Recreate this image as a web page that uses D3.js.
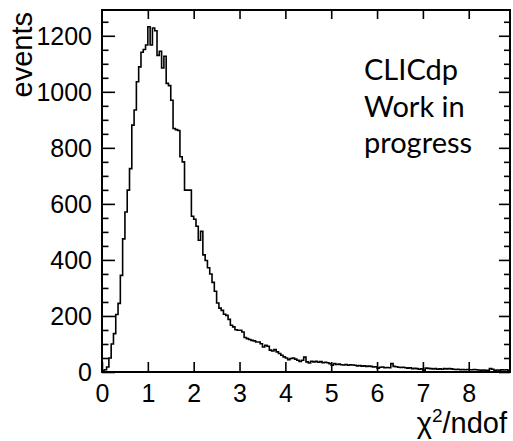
<!DOCTYPE html>
<html>
<head>
<meta charset="utf-8">
<script src="https://cdn.jsdelivr.net/npm/d3@7"></script>
<style>
  html, body { margin: 0; padding: 0; background: #fff; }
  svg { display: block; }
</style>
</head>
<body>
<svg id="chart" width="513" height="441"></svg>
<script>
// ---- data ----
const binStart = 0;
const binWidth = 0.05;
const counts = [
  4, 8, 18, 50, 100, 137, 205, 245, 345, 475,
  571, 649, 726, 881, 935, 1036, 1089, 1141, 1151, 1167,
  1232, 1167, 1228, 1218, 1130, 1145, 1085, 1127, 1030, 1022,
  970, 869, 865, 862, 768, 750, 649, 649, 649, 556,
  545, 520, 470, 502, 418, 398, 372, 350, 320, 288,
  246, 228, 220, 206, 202, 188, 167, 161, 151, 149,
  149, 143, 123, 119, 116, 113, 111, 107, 107, 101,
  89, 95, 92, 78, 75, 80, 72, 66, 60, 54,
  50, 44, 48, 50, 46, 42, 38, 42, 53, 36,
  32, 38, 36, 38, 35, 37, 33, 35, 33, 30,
  24, 30, 27, 28, 26, 25, 27, 24, 26, 25,
  24, 22, 23, 21, 22, 20, 21, 20, 18, 19,
  14, 17, 18, 15, 16, 15, 30, 20, 19, 17,
  16, 17, 15, 14, 15, 12, 13, 12, 10, 11,
  6, 14, 13, 12, 11, 12, 10, 11, 10, 12,
  11, 12, 11, 10, 9, 10, 8, 9, 8, 9,
  8, 8, 9, 8, 7, 6, 7, 6, 6, 12,
  10, 6, 7, 6, 8, 7, 8, 6
];
const xDomain = [0, 8.9];
const yDomain = [0, 1292];
const xTicks = [0, 1, 2, 3, 4, 5, 6, 7, 8];
const yTicks = [0, 200, 400, 600, 800, 1000, 1200];
const yMinorStep = 50;
const xTitle = "χ";
const xTitleSup = "2";
const xTitleRest = "/ndof";
const yTitle = "events";
const labelLines = ["CLICdp", "Work in", "progress"];

// ---- layout ----
const L = 102, R = 510, T = 10, B = 372;
const svg = d3.select("#chart");
const x = d3.scaleLinear().domain(xDomain).range([L, R]);
const y = d3.scaleLinear().domain(yDomain).range([B, T]);

const font = "'Liberation Sans', Arial, Helvetica, sans-serif";

// histogram
const pts = counts.map((c, i) => [binStart + i * binWidth, c]);
pts.push([binStart + counts.length * binWidth, counts[counts.length - 1]]);
const line = d3.line().x(d => x(d[0])).y(d => y(d[1])).curve(d3.curveStepAfter);
const pathPts = [[binStart, 0]].concat(pts);
svg.append("path")
  .attr("d", line(pathPts))
  .attr("fill", "none")
  .attr("stroke", "#000")
  .attr("stroke-width", 1.6)
  .attr("stroke-linejoin", "miter");

// minor tick values
const yMinor = d3.range(0, yDomain[1] + 1, yMinorStep).filter(v => !yTicks.includes(v));

function styleAxis(g) {
  g.selectAll(".domain").remove();
  g.selectAll(".tick line").attr("stroke", "#000").attr("stroke-width", 1.6);
}

// left axis (major, with labels)
const gl = svg.append("g").attr("transform", `translate(${L},0)`)
  .call(d3.axisLeft(y).tickValues(yTicks).tickSize(-13).tickPadding(10).tickFormat(d3.format("d")));
styleAxis(gl);
gl.selectAll("text").attr("font-family", font).attr("font-size", 25).attr("fill", "#000").attr("dy", "0.35em");
// left minor
const glm = svg.append("g").attr("transform", `translate(${L},0)`)
  .call(d3.axisLeft(y).tickValues(yMinor).tickSize(-6.5).tickFormat(""));
styleAxis(glm);
// right axis
const gr = svg.append("g").attr("transform", `translate(${R},0)`)
  .call(d3.axisRight(y).tickValues(yTicks).tickSize(-11).tickFormat(""));
styleAxis(gr);
const grm = svg.append("g").attr("transform", `translate(${R},0)`)
  .call(d3.axisRight(y).tickValues(yMinor).tickSize(-6).tickFormat(""));
styleAxis(grm);

// bottom axis
const gb = svg.append("g").attr("transform", `translate(0,${B})`)
  .call(d3.axisBottom(x).tickValues(xTicks).tickSize(-10).tickPadding(12).tickFormat(d3.format("d")));
styleAxis(gb);
gb.selectAll("text").attr("font-family", font).attr("font-size", 25).attr("fill", "#000").attr("dy", "0.71em");
// top axis
const gt = svg.append("g").attr("transform", `translate(0,${T})`)
  .call(d3.axisTop(x).tickValues(xTicks.filter(v => v > 0)).tickSize(-9).tickFormat(""));
styleAxis(gt);

// frame
svg.append("rect")
  .attr("x", L).attr("y", T).attr("width", R - L).attr("height", B - T)
  .attr("fill", "none").attr("stroke", "#000").attr("stroke-width", 2);

// axis titles
const xt = svg.append("text")
  .attr("x", 507).attr("y", 433)
  .attr("text-anchor", "end")
  .attr("font-family", font).attr("font-size", 29).attr("fill", "#000");
xt.append("tspan").text(xTitle);
xt.append("tspan").attr("font-size", 19).attr("dy", -11).text(xTitleSup);
xt.append("tspan").attr("dy", 11).text(xTitleRest);

svg.append("text")
  .attr("transform", "translate(32,12) rotate(-90)")
  .attr("text-anchor", "end")
  .attr("font-family", font).attr("font-size", 29).attr("fill", "#000")
  .text(yTitle);

// label
const lab = svg.append("g");
labelLines.forEach((t, i) => {
  lab.append("text")
    .attr("x", 364).attr("y", 80 + i * 36.5)
    .attr("font-family", "Lato, 'Open Sans', sans-serif")
    .attr("font-size", 29).attr("fill", "#000")
    .text(t);
});
</script>
</body>
</html>
